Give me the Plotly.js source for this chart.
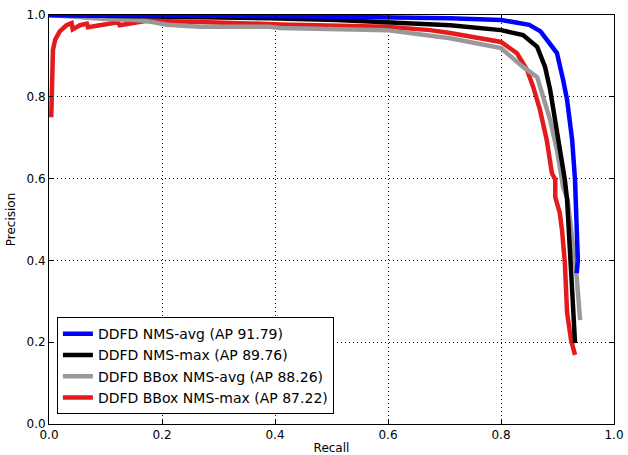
<!DOCTYPE html>
<html><head><meta charset="utf-8">
<script src="https://cdn.plot.ly/plotly-3.0.1.min.js"></script>
<style>html,body{margin:0;padding:0;background:#fff;}#chart{width:628px;height:455px;}</style>
</head><body><div id="chart"></div>
<script>
// Series names (legend order)
const seriesNames = ["DDFD NMS-avg (AP 91.79)", "DDFD NMS-max (AP 89.76)", "DDFD BBox NMS-avg (AP 88.26)", "DDFD BBox NMS-max (AP 87.22)"];

// Blue: DDFD NMS-avg
const nmsAvgRecall = [0, 0.1, 0.3, 0.45, 0.6, 0.71, 0.8, 0.85, 0.87, 0.881, 0.899, 0.91, 0.917, 0.926, 0.931, 0.936, 0.934];
const nmsAvgPrec   = [1.0, 1.0, 0.998, 0.997, 0.995, 0.992, 0.988, 0.976, 0.96, 0.939, 0.907, 0.841, 0.792, 0.694, 0.597, 0.40, 0.369];

// Black: DDFD NMS-max
const nmsMaxRecall = [0, 0.13, 0.3, 0.39, 0.51, 0.6, 0.674, 0.71, 0.8, 0.839, 0.864, 0.878, 0.887, 0.896, 0.904, 0.913, 0.917, 0.922, 0.927, 0.931];
const nmsMaxPrec   = [1.0, 0.998, 0.995, 0.992, 0.988, 0.982, 0.978, 0.975, 0.963, 0.951, 0.922, 0.873, 0.817, 0.743, 0.670, 0.597, 0.548, 0.401, 0.30, 0.198];

// Gray: DDFD BBox NMS-avg
const bboxAvgRecall = [0, 0.1, 0.15, 0.173, 0.209, 0.267, 0.391, 0.409, 0.598, 0.674, 0.71, 0.8, 0.839, 0.864, 0.874, 0.887, 0.899, 0.910, 0.918, 0.926, 0.934, 0.940];
const bboxAvgPrec   = [1.0, 0.99, 0.988, 0.985, 0.976, 0.971, 0.971, 0.968, 0.963, 0.951, 0.943, 0.919, 0.873, 0.848, 0.80, 0.743, 0.670, 0.579, 0.548, 0.45, 0.359, 0.254];

// Red: DDFD BBox NMS-max
const bboxMaxRecall = [0.004, 0.005, 0.007, 0.011, 0.019, 0.031, 0.040, 0.042, 0.055, 0.067, 0.069, 0.090, 0.122, 0.125, 0.14, 0.173, 0.267, 0.391, 0.409, 0.598, 0.674, 0.71, 0.8, 0.828, 0.846, 0.857, 0.869, 0.881, 0.890, 0.896, 0.896, 0.904, 0.908, 0.913, 0.917, 0.924, 0.931];
const bboxMaxPrec   = [0.75, 0.87, 0.915, 0.94, 0.960, 0.975, 0.980, 0.965, 0.975, 0.979, 0.970, 0.975, 0.982, 0.975, 0.979, 0.986, 0.983, 0.980, 0.977, 0.971, 0.963, 0.956, 0.934, 0.907, 0.866, 0.824, 0.768, 0.694, 0.614, 0.597, 0.555, 0.516, 0.474, 0.394, 0.271, 0.205, 0.169];

const tickVals = [0, 0.2, 0.4, 0.6, 0.8, 1.0];
const tickText = ["0.0", "0.2", "0.4", "0.6", "0.8", "1.0"];

const colors = ["#0000ff", "#000000", "#999999", "#e41a1c"];
const lw = 4.5;

const traces = [
  {x: bboxMaxRecall, y: bboxMaxPrec, name: seriesNames[3], line: {color: colors[3], width: lw}},
  {x: bboxAvgRecall, y: bboxAvgPrec, name: seriesNames[2], line: {color: colors[2], width: lw}},
  {x: nmsMaxRecall, y: nmsMaxPrec, name: seriesNames[1], line: {color: colors[1], width: lw}},
  {x: nmsAvgRecall, y: nmsAvgPrec, name: seriesNames[0], line: {color: colors[0], width: lw}}
].map(t => Object.assign({type: "scatter", mode: "lines", cliponaxis: true}, t));

const axisCommon = {
  range: [0, 1], tickvals: tickVals, ticktext: tickText,
  showgrid: true, gridcolor: "#000", griddash: "1px,3px", gridwidth: 1,
  showline: true, linecolor: "#000", linewidth: 1, mirror: "ticks",
  ticks: "inside", ticklen: 4, tickcolor: "#000",
  zeroline: false, tickfont: {size: 12, color: "#000"}, fixedrange: true
};

const layout = {
  width: 628, height: 455,
  margin: {l: 49, r: 14, t: 15, b: 31},
  paper_bgcolor: "#fff", plot_bgcolor: "#fff",
  font: {family: "DejaVu Sans, sans-serif", color: "#000", size: 12},
  showlegend: true,
  legend: {
    x: 0.014, y: 0.024, xanchor: "left", yanchor: "bottom",
    bgcolor: "#fff", bordercolor: "#000", borderwidth: 1,
    font: {size: 14, color: "#000"}, traceorder: "reversed",
    itemwidth: 30, tracegroupgap: 0
  },
  xaxis: Object.assign({}, axisCommon, {title: {text: "Recall", font: {size: 12}, standoff: 6}}),
  yaxis: Object.assign({}, axisCommon, {title: {text: "Precision", font: {size: 12}, standoff: 8}})
};

Plotly.newPlot("chart", traces, layout, {displayModeBar: false, staticPlot: true});
</script></body></html>
